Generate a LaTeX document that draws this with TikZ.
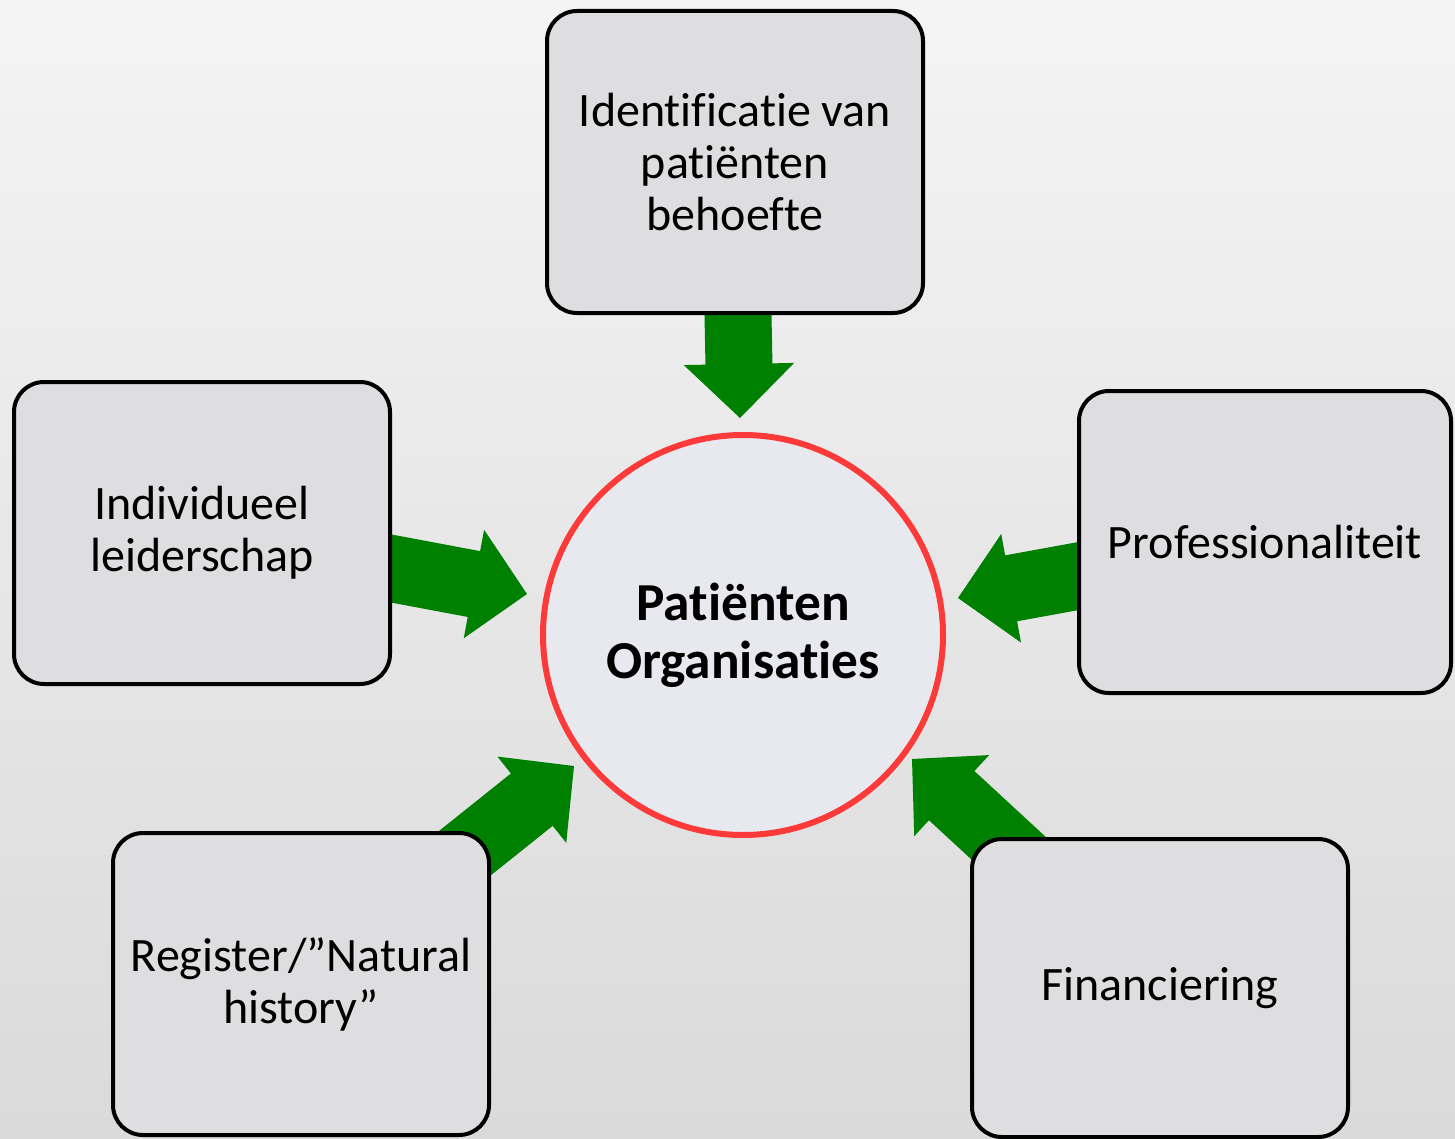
\documentclass[tikz,border=0pt]{standalone}
\usepackage{fontspec}
\setmainfont{Carlito}[Ligatures={NoCommon}]
\usetikzlibrary{arrows.meta}
\definecolor{boxgray}{RGB}{222,222,224}
\definecolor{circfill}{RGB}{232,233,238}
\definecolor{circred}{RGB}{252,58,58}
\definecolor{arrgreen}{RGB}{0,128,0}
\definecolor{bgtop}{RGB}{244,244,244}
\definecolor{bgbot}{RGB}{218,218,218}
\pgfdeclarelayer{bg}
\pgfdeclarelayer{arrowlayer}
\pgfsetlayers{bg,arrowlayer,main}

\begin{document}
\begin{tikzpicture}[x=0.5pt, y=-0.5pt,
    pillar/.style={draw, line width=2pt, rounded corners=15pt, fill=boxgray,
        minimum width=188pt, minimum height=151pt, align=center,
        font=\fontsize{24}{26}\selectfont},
    hub/.style={draw=circred, line width=3pt, circle, fill=circfill,
        minimum size=200pt, align=center,
        font=\fontsize{26.7}{29}\selectfont\bfseries},
    push/.style={arrgreen, line width=33.5pt,
        -{Triangle[length=27pt, width=55pt, line width=1pt]}}]
				\node[hub] (P) at (743, 635) {Patiënten\\Organisaties};
				\node[pillar] (I) at (735, 162) {Identificatie van\\patiënten\\behoefte};
				\node[pillar] (L) at (202, 533) {Individueel\\leiderschap};
				\node[pillar, minimum width=186pt] (Pr) at (1265, 542) {Professionaliteit};
				\node[pillar] (R) at (301, 984) {Register/”Natural\\history”};
				\node[pillar, minimum height=149pt] (F) at (1160, 988) {Financiering};
				\coordinate (tI) at (740, 418);
				\coordinate (tL) at (527, 594);
				\coordinate (tPr) at (958, 598);
				\coordinate (tR) at (574, 766);
				\coordinate (tF) at (912, 759);
				\begin{pgfonlayer}{arrowlayer}
				\draw[push] (I.center) -- (tI);
				\draw[push] (L.center) -- (tL);
				\draw[push] (Pr.center) -- (tPr);
				\draw[push] (R.center) -- (tR);
				\draw[push] (F.center) -- (tF);
				\end{pgfonlayer}
				\begin{pgfonlayer}{bg}
				\shade[top color=bgtop, bottom color=bgbot] (0, 0) rectangle (1455, 1139);
				\end{pgfonlayer}
				\useasboundingbox (0, 0) rectangle (1455, 1139);
			\end{tikzpicture}
\end{document}
